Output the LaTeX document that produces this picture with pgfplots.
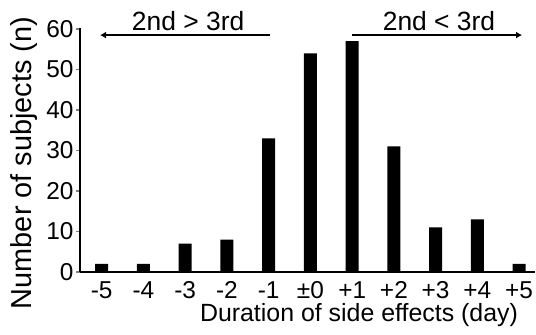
\documentclass[border=0pt]{standalone}
\usepackage{fontspec}
\setmainfont{Liberation Sans}
\usepackage{pgfplots}
\pgfplotsset{compat=1.18}
\usetikzlibrary{arrows.meta}
\begin{document}
\begin{tikzpicture}
\begin{axis}[
  name=ax,
  scale only axis,
  width=455bp, height=244.2bp,
  xmin=-5.52, xmax=5.38,
  ymin=0, ymax=60.3,
  axis lines*=left,
  axis line style={line width=1.5bp},
  xtick={-5,...,5},
  xticklabels={-5,-4,-3,-2,-1,±0,+1,+2,+3,+4,+5},
  xtick style={draw=none},
  ytick={0,10,...,60},
  ytick style={line width=1.5bp},
  tick align=outside,
  major tick length=4bp,
  /pgf/number format/assume math mode=true,
  tick label style={font=\fontsize{24.5}{26}\selectfont},
  yticklabel style={xshift=1bp},
  xticklabel style={yshift=-2bp},
  clip=false,
]
\addplot[ybar, bar width=13bp, fill=black, draw=none] coordinates {
(-5,2) (-4,2) (-3,7) (-2,8) (-1,33) (0,54) (1,57) (2,31) (3,11) (4,13) (5,2)
};
\draw[line width=1.5bp, -{Latex[length=6bp,width=7bp]}] (axis cs:-0.97,58.5) -- (axis cs:-5.04,58.5);
\draw[line width=1.5bp, -{Latex[length=6bp,width=7bp]}] (axis cs:0.995,58.5) -- (axis cs:5.07,58.5);
\node[anchor=base, inner sep=0pt, font=\fontsize{26.5}{28}\selectfont] at (axis cs:-2.93,59.75) {2nd > 3rd};
\node[anchor=base, inner sep=0pt, font=\fontsize{26.5}{28}\selectfont] at (axis cs:3.08,59.75) {2nd < 3rd};
\end{axis}
\node[rotate=90, anchor=base, inner sep=0pt, font=\fontsize{29}{30}\selectfont] at ([shift={(-48bp,109bp)}]ax.south west) {Number of subjects (n)};
\node[anchor=base, inner sep=0pt, font=\fontsize{25}{27}\selectfont] at ([shift={(279bp,-50bp)}]ax.south west) {Duration of side effects (day)};
\pgfresetboundingbox
\path ([shift={(-80bp,-63bp)}]ax.south west) rectangle ([shift={(1bp,27.8bp)}]ax.north east);
\end{tikzpicture}
\end{document}
